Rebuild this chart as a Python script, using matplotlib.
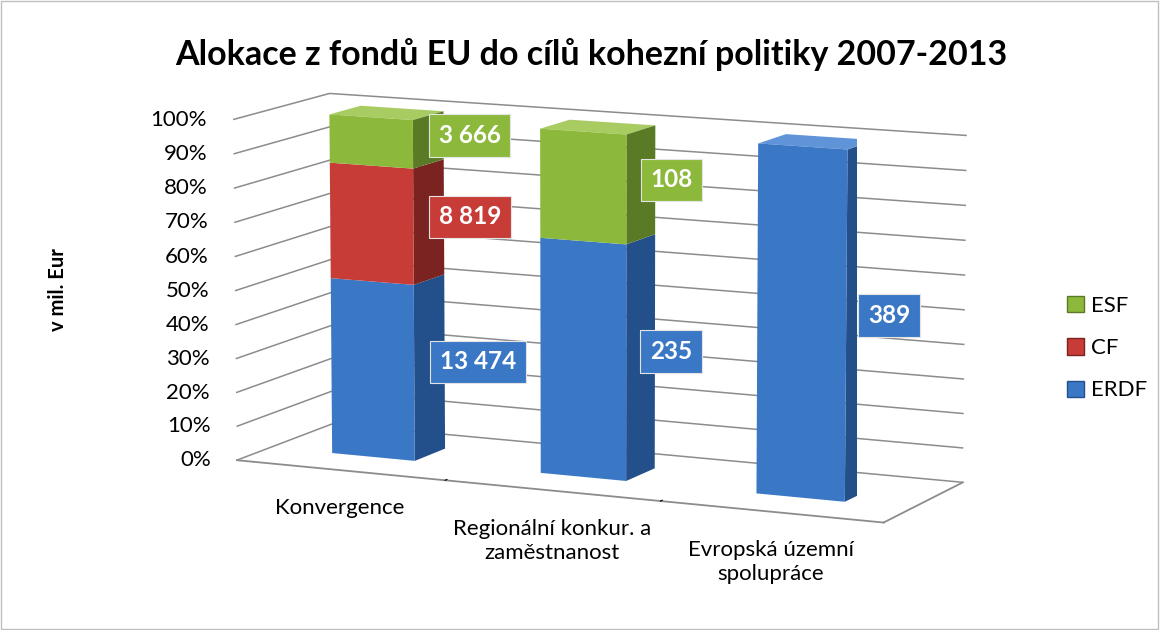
import numpy as np
import matplotlib.pyplot as plt
from matplotlib.patches import Patch, Rectangle
from mpl_toolkits.mplot3d import proj3d

categories = ["Konvergence", "Regionální konkur. a\nzaměstnanost", "Evropská územní\nspolupráce"]
series_names = ["ERDF", "CF", "ESF"]
erdf = [13474, 235, 389]
cf = [8819, 0, 0]
esf = [3666, 108, 0]
z_ticks = [0, 0.1, 0.2, 0.3, 0.4, 0.5, 0.6, 0.7, 0.8, 0.9, 1.0]

front_colors = ["#3a78c6", "#c83c37", "#8cb93c"]
side_colors = ["#23508a", "#7a2320", "#5b7a26"]
top_colors = ["#5f95d8", "#dc6863", "#a8cc62"]
grid_color = "#8c8c8c"

plt.rcParams["font.family"] = ["Lato", "DejaVu Sans"]

values = np.array([erdf, cf, esf], dtype=float)
shares = values / values.sum(axis=0)

fig = plt.figure(figsize=(11.6, 6.3), dpi=100)
ax = fig.add_axes([0.108, 0.087, 0.8, 0.85], projection="3d")
ax.set_box_aspect((2.88, 0.85, 1.42), zoom=1.48)
ax.set_proj_type("persp", focal_length=2.0)
ax.view_init(elev=10, azim=-65)
ax.set_xlim(-0.5, 2.5)
ax.set_ylim(0, 1)
ax.set_zlim(0, 1)

# bars: only visible faces coloured (-z, +z, -y, +y, -x, +x)
w = 0.4
y0, dy = 0.35, 0.33
clear = (1, 1, 1, 0)
bottoms = np.zeros(3)
for k in range(3):
    for i in range(3):
        if shares[k, i] <= 0:
            continue
        is_top = np.isclose(bottoms[i] + shares[k, i], 1.0)
        fc = [clear, top_colors[k] if is_top else clear, front_colors[k],
              clear, clear, side_colors[k]]
        ax.bar3d(i - w / 2, y0, bottoms[i], w, dy, shares[k, i],
                 color=fc, shade=False, linewidth=0)
    bottoms = bottoms + shares[k]

# panes, grid, axis lines
for axis in (ax.xaxis, ax.yaxis, ax.zaxis):
    axis.set_pane_color(clear)
    axis.pane.set_edgecolor(clear)
    axis.line.set_color(grid_color)
    axis.line.set_linewidth(1.3)
    axis._axinfo["grid"]["color"] = grid_color
    axis._axinfo["grid"]["linewidth"] = 1.1
    axis._axinfo["tick"]["inward_factor"] = 0.0
    axis._axinfo["tick"]["outward_factor"] = 0.25
ax.xaxis._axinfo["grid"]["linewidth"] = 0
ax.zaxis.line.set_color(clear)
ax.zaxis._axinfo["tick"]["outward_factor"] = 0.0
ax.set_xticks([0.5, 1.5])
ax.set_xticklabels([])
ax.set_yticks([])
ax.set_zticks(z_ticks)
ax.set_zticklabels([])

# left front edge of the wall with its tick marks
ax.plot([-0.5, -0.5], [0, 0], [0, 1], color=grid_color, lw=1.3)
for z in z_ticks:
    ax.plot([-0.5, -0.55], [0, 0], [z, z], color=grid_color, lw=1.3)

M = ax.get_proj()


def proj(x, y, z):
    px, py, _ = proj3d.proj_transform(x, y, z, M)
    return px, py


# z tick labels
for z in z_ticks:
    ax.annotate(f"{z:.0%}", xy=proj(-0.5, 0, z), xytext=(-26, 0),
                textcoords="offset pixels", ha="right", va="center",
                fontsize=16, color="#000000", zorder=100, annotation_clip=False)

# category labels
for i, cat in enumerate(categories):
    ax.annotate(cat, xy=proj(i, 0, 0), xytext=(0, -28),
                textcoords="offset pixels", ha="center", va="top",
                fontsize=16, linespacing=1.3, zorder=100, annotation_clip=False)

# data labels
bottoms = np.zeros(3)
for k in range(3):
    for i in range(3):
        if values[k, i] > 0:
            zmid = bottoms[i] + shares[k, i] / 2
            txt = f"{int(values[k, i]):,}".replace(",", " ")
            ax.annotate(txt, xy=proj(i + w / 2, y0 + dy, zmid), xytext=(-5, 0),
                        textcoords="offset pixels", ha="left", va="center",
                        fontsize=17.5, fontweight="bold", color="white", zorder=100,
                        annotation_clip=False,
                        bbox=dict(boxstyle="square,pad=0.4", fc=front_colors[k],
                                  ec="#e4e4e4", lw=0.8))
    bottoms = bottoms + shares[k]

fig.text(0.510, 0.913, "Alokace z fondů EU do cílů kohezní politiky 2007-2013",
         ha="center", va="center", fontsize=24.5, fontweight="bold")
fig.text(0.05, 0.54, "v mil. Eur", rotation=90, ha="center", va="center",
         fontsize=14.5, fontweight="bold")

handles = [Patch(facecolor=front_colors[k], edgecolor=side_colors[k]) for k in (2, 1, 0)]
fig.legend(handles, [series_names[k] for k in (2, 1, 0)], loc="upper left",
           bbox_to_anchor=(1067 / 1160, 1 - 296 / 630), frameon=False,
           fontsize=16, labelspacing=1.0, handlelength=0.75, handleheight=0.75,
           handletextpad=0.35, borderpad=0, borderaxespad=0)

fig.patches.append(Rectangle((0.001, 0.002), 0.997, 0.996, transform=fig.transFigure,
                             fill=False, edgecolor="#bfbfbf", lw=1))

fig.savefig("out.png", dpi=100)
